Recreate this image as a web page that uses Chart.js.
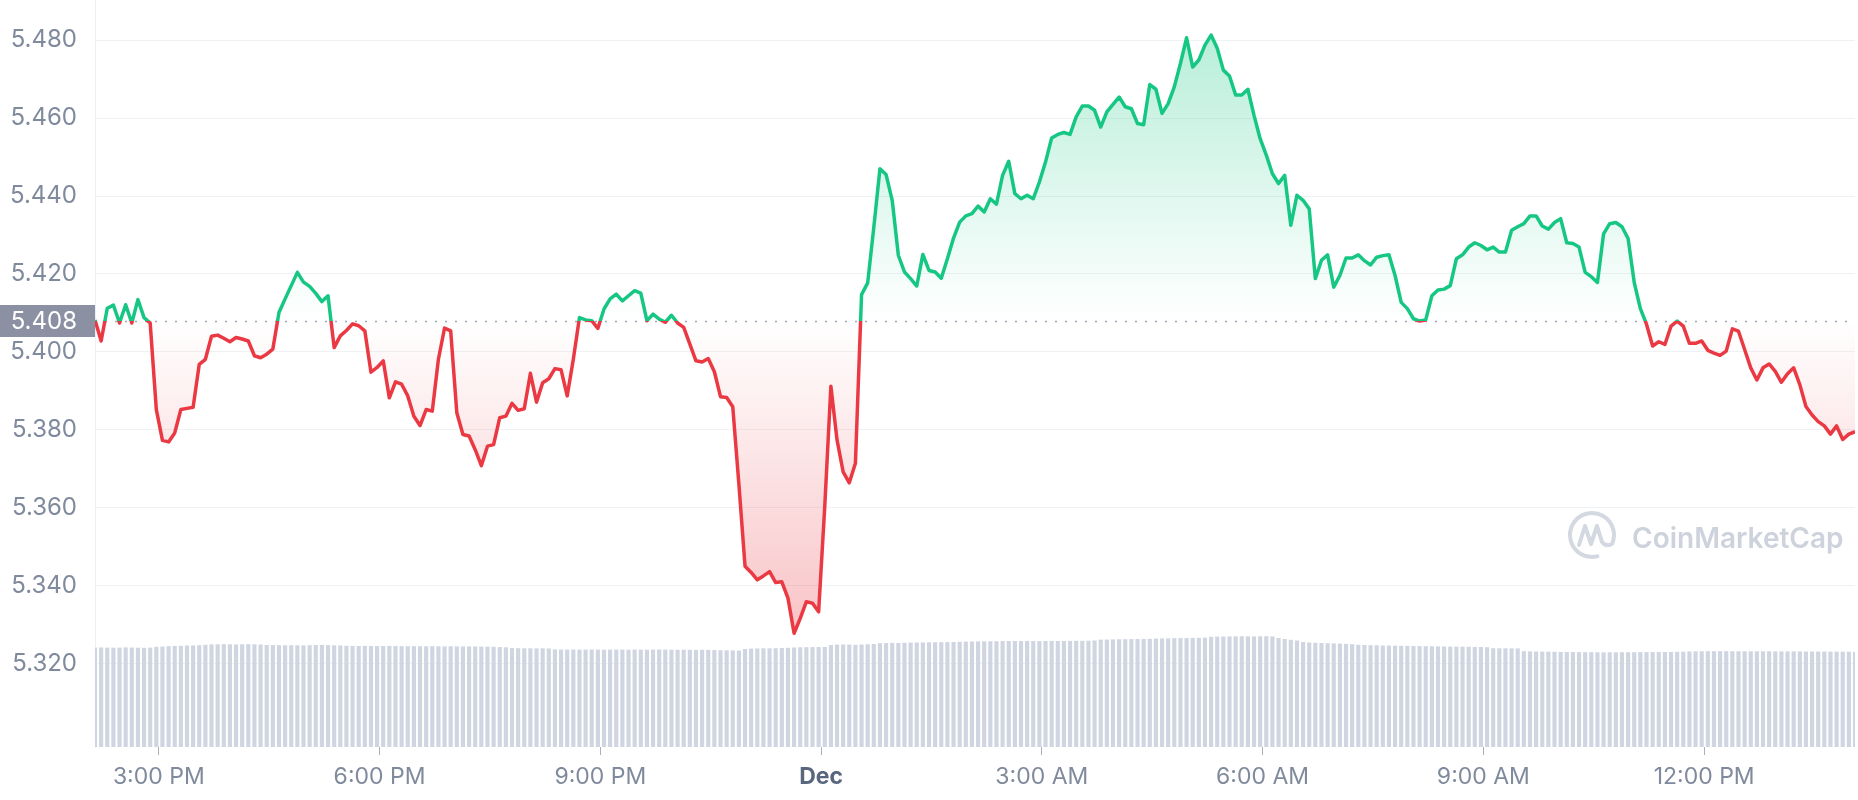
<!DOCTYPE html>
<html>
<head>
<meta charset="utf-8">
<title>Price chart</title>
<script src="https://cdn.jsdelivr.net/npm/chart.js@4.4.1/dist/chart.umd.min.js"></script>
<style>
    html, body { margin: 0; padding: 0; background: #ffffff; }
    .chart-box { width: 1858px; height: 800px; position: relative; }
</style>
</head>
<body>
<div class="chart-box"><canvas id="priceChart"></canvas></div>
<script>
// 5 minute candles, first one at 14:08 on Nov 30 (minutes counted from Nov 30 00:00)
const START_MINUTE = 848;
const STEP_MINUTES = 5;
const BASE_PRICE = 5.408;

const xTickMinutes = [900, 1080, 1260, 1440, 1620, 1800, 1980, 2160];
const yTickValues = [5.32, 5.34, 5.36, 5.38, 5.40, 5.42, 5.44, 5.46, 5.48];

const prices = [
    5.4082, 5.4028, 5.4112, 5.4120, 5.4074, 5.4121, 5.4074, 5.4134, 5.4088, 5.4074, 5.3852, 5.3773,
    5.3769, 5.3792, 5.3852, 5.3855, 5.3858, 5.3968, 5.3981, 5.4040, 5.4043, 5.4035, 5.4026, 5.4037,
    5.4033, 5.4028, 5.3990, 5.3985, 5.3994, 5.4007, 5.4101, 5.4136, 5.4170, 5.4204, 5.4179, 5.4168,
    5.4150, 5.4129, 5.4144, 5.4011, 5.4041, 5.4055, 5.4072, 5.4067, 5.4054, 5.3948, 5.3960, 5.3977,
    5.3882, 5.3923, 5.3917, 5.3887, 5.3835, 5.3811, 5.3852, 5.3848, 5.3981, 5.4061, 5.4054, 5.3844,
    5.3788, 5.3784, 5.3749, 5.3708, 5.3758, 5.3762, 5.3831, 5.3835, 5.3868, 5.3850, 5.3854, 5.3945,
    5.3871, 5.3921, 5.3931, 5.3957, 5.3954, 5.3887, 5.3981, 5.4088, 5.4082, 5.4080, 5.4060, 5.4110,
    5.4136, 5.4148, 5.4131, 5.4144, 5.4157, 5.4151, 5.4080, 5.4097, 5.4084, 5.4076, 5.4094, 5.4074,
    5.4063, 5.4020, 5.3977, 5.3974, 5.3983, 5.3949, 5.3885, 5.3883, 5.3859, 5.3660, 5.3450, 5.3434,
    5.3415, 5.3425, 5.3436, 5.3408, 5.3410, 5.3368, 5.3278, 5.3316, 5.3359, 5.3355, 5.3333, 5.3603,
    5.3912, 5.3774, 5.3692, 5.3664, 5.3714, 5.4147, 5.4177, 5.4320, 5.4470, 5.4455, 5.4389, 5.4248,
    5.4205, 5.4188, 5.4169, 5.4250, 5.4209, 5.4205, 5.4189, 5.4239, 5.4292, 5.4333, 5.4349, 5.4355,
    5.4374, 5.4359, 5.4393, 5.4379, 5.4453, 5.4489, 5.4406, 5.4393, 5.4402, 5.4393, 5.4436, 5.4487,
    5.4549, 5.4558, 5.4563, 5.4558, 5.4603, 5.4631, 5.4631, 5.4620, 5.4577, 5.4616, 5.4635, 5.4654,
    5.4629, 5.4624, 5.4586, 5.4583, 5.4686, 5.4674, 5.4612, 5.4637, 5.4680, 5.4740, 5.4806, 5.4731,
    5.4749, 5.4787, 5.4813, 5.4779, 5.4723, 5.4708, 5.4659, 5.4659, 5.4674, 5.4607, 5.4547, 5.4505,
    5.4457, 5.4432, 5.4453, 5.4325, 5.4402, 5.4389, 5.4367, 5.4188, 5.4235, 5.4249, 5.4166, 5.4196,
    5.4241, 5.4241, 5.4249, 5.4234, 5.4223, 5.4243, 5.4247, 5.4249, 5.4196, 5.4127, 5.4111, 5.4085,
    5.4079, 5.4082, 5.4144, 5.4159, 5.4161, 5.4170, 5.4239, 5.4249, 5.4269, 5.4280, 5.4273, 5.4262,
    5.4269, 5.4256, 5.4256, 5.4312, 5.4321, 5.4329, 5.4349, 5.4349, 5.4323, 5.4315, 5.4332, 5.4342,
    5.4280, 5.4278, 5.4269, 5.4204, 5.4193, 5.4178, 5.4303, 5.4329, 5.4332, 5.4321, 5.4291, 5.4178,
    5.4111, 5.4071, 5.4015, 5.4026, 5.4019, 5.4066, 5.4079, 5.4066, 5.4022, 5.4022, 5.4028, 5.4004,
    5.3997, 5.3991, 5.4002, 5.4059, 5.4053, 5.4006, 5.3959, 5.3928, 5.3959, 5.3969, 5.3950, 5.3922,
    5.3944, 5.3959, 5.3916, 5.3860, 5.3838, 5.3821, 5.3810, 5.3789, 5.3810, 5.3775, 5.3789, 5.3795
];

// volume per candle (millions)
const volumes = [
    9.94, 9.95, 9.94, 9.93, 9.94, 9.96, 9.94, 9.93, 9.92, 9.94,
    10.02, 10.05, 10.08, 10.10, 10.12, 10.14, 10.16, 10.18, 10.22,
    10.26, 10.27, 10.28, 10.27, 10.26, 10.27, 10.28, 10.27, 10.25,
    10.20, 10.19, 10.18, 10.17, 10.18, 10.17, 10.16, 10.18, 10.20, 10.21, 10.19, 10.17, 10.15,
    10.12, 10.11, 10.10, 10.11, 10.10, 10.09, 10.10, 10.11, 10.10, 10.09, 10.08, 10.09, 10.08,
    10.07, 10.08, 10.07, 10.06, 10.07, 10.06, 10.05, 10.06, 10.05, 10.04, 10.03, 10.02, 10.00, 9.97,
    9.90, 9.88, 9.87, 9.87, 9.86, 9.87, 9.85,
    9.76, 9.75, 9.74, 9.75, 9.74, 9.74, 9.75, 9.74, 9.73, 9.74, 9.75, 9.74, 9.73, 9.74, 9.74,
    9.73, 9.74, 9.75, 9.74, 9.73, 9.72, 9.73, 9.72, 9.71, 9.72, 9.71, 9.70, 9.68, 9.67, 9.66,
    9.64,
    9.80, 9.84, 9.86, 9.87, 9.87, 9.88, 9.90, 9.92, 9.95, 9.97, 9.98, 9.99, 10.00, 10.00,
    10.20, 10.24, 10.25, 10.24, 10.22, 10.25, 10.27, 10.30,
    10.38, 10.40, 10.41, 10.40, 10.42, 10.44, 10.45, 10.46, 10.47, 10.48, 10.48, 10.49, 10.50,
    10.52, 10.54, 10.55, 10.56, 10.57, 10.58, 10.58, 10.59, 10.60, 10.60,
    10.60, 10.61, 10.60, 10.59, 10.60, 10.61, 10.60, 10.60, 10.61, 10.62, 10.62, 10.63, 10.65,
    10.74, 10.75, 10.76, 10.77, 10.78, 10.79, 10.80, 10.81, 10.82, 10.84, 10.85, 10.86, 10.88, 10.89, 10.90, 10.91, 10.92, 10.94,
    11.02, 11.04, 11.05, 11.06, 11.07, 11.07, 11.07, 11.06, 11.07, 11.08, 11.06,
    10.90, 10.80, 10.72, 10.65,
    10.50, 10.45, 10.42, 10.40, 10.38, 10.36, 10.34, 10.31, 10.28,
    10.22, 10.20, 10.18, 10.17, 10.15, 10.14, 10.13, 10.12, 10.11, 10.10, 10.09,
    10.08, 10.07, 10.06, 10.05, 10.04, 10.04, 10.03, 10.02, 10.01, 10.00, 9.98,
    9.88, 9.87, 9.87, 9.86, 9.86,
    9.58, 9.56, 9.55, 9.54, 9.53, 9.52, 9.51, 9.50, 9.50, 9.49, 9.48, 9.48, 9.47, 9.47,
    9.47, 9.47, 9.48, 9.48, 9.48, 9.49, 9.49, 9.49, 9.50, 9.50, 9.51, 9.52, 9.53,
    9.56, 9.57, 9.58, 9.58, 9.58, 9.58, 9.58, 9.58, 9.57, 9.57, 9.57, 9.57, 9.57, 9.57,
    9.56, 9.56, 9.56, 9.56, 9.56, 9.55, 9.55, 9.55, 9.55, 9.54, 9.54, 9.53, 9.53, 9.52
];

const GREEN = "#16c784";
const RED = "#ea3943";
const TEXT_GREY = "#808a9d";

document.addEventListener("DOMContentLoaded", function () {
    const times = prices.map((p, i) => START_MINUTE + i * STEP_MINUTES);
    const pricePoints = prices.map((p, i) => ({ x: times[i], y: p }));
    const volumePoints = volumes.map((v, i) => ({ x: times[i], y: v }));

    function formatTime(minute) {
        if (minute % 1440 === 0) {
            return "Dec";
        }
        const h = Math.floor(minute / 60) % 24;
        const m = minute % 60;
        const h12 = h % 12 === 0 ? 12 : h % 12;
        return h12 + ":" + String(m).padStart(2, "0") + (h < 12 ? " AM" : " PM");
    }

    // split point of the two colours, as a fraction of the gradient height
    function baseFraction(chart, top, bottom) {
        const mid = chart.scales.y.getPixelForValue(BASE_PRICE);
        return Math.min(1, Math.max(0, (mid - top) / (bottom - top)));
    }

    function lineColor(context) {
        const chart = context.chart;
        const area = chart.chartArea;
        if (!area) {
            return GREEN;
        }
        const g = chart.ctx.createLinearGradient(0, area.top, 0, area.bottom);
        const f = baseFraction(chart, area.top, area.bottom);
        g.addColorStop(0, GREEN);
        g.addColorStop(f, GREEN);
        g.addColorStop(f, RED);
        g.addColorStop(1, RED);
        return g;
    }

    function areaColor(context) {
        const chart = context.chart;
        const area = chart.chartArea;
        if (!area) {
            return "transparent";
        }
        const yScale = chart.scales.y;
        const top = yScale.getPixelForValue(Math.max(...prices));
        const bottom = yScale.getPixelForValue(Math.min(...prices));
        const g = chart.ctx.createLinearGradient(0, top, 0, bottom);
        const f = baseFraction(chart, top, bottom);
        g.addColorStop(0, "rgba(22, 199, 132, 0.30)");
        g.addColorStop(f, "rgba(22, 199, 132, 0.0)");
        g.addColorStop(f, "rgba(234, 57, 67, 0.0)");
        g.addColorStop(1, "rgba(234, 57, 67, 0.30)");
        return g;
    }

    const baselinePlugin = {
        id: "baseline",
        beforeDatasetsDraw(chart) {
            const { ctx, chartArea, scales } = chart;
            const y = Math.round(scales.y.getPixelForValue(BASE_PRICE)) + 0.5;
            ctx.save();
            ctx.strokeStyle = "#9ea5b3";
            ctx.lineWidth = 1.5;
            ctx.setLineDash([2, 8]);
            ctx.beginPath();
            ctx.moveTo(chartArea.left, y);
            ctx.lineTo(chartArea.right, y);
            ctx.stroke();
            ctx.restore();
        },
        afterDraw(chart) {
            const { ctx, chartArea, scales } = chart;
            const y = scales.y.getPixelForValue(BASE_PRICE);
            ctx.save();
            ctx.fillStyle = "#8b91a2";
            ctx.fillRect(0, Math.round(y - 16), chartArea.left, 32);
            ctx.fillStyle = "#ffffff";
            ctx.font = "24px Inter";
            ctx.textAlign = "right";
            ctx.textBaseline = "middle";
            ctx.fillText(BASE_PRICE.toFixed(3), chartArea.left - 18, y + 1);
            ctx.restore();
        }
    };

    const watermarkPlugin = {
        id: "watermark",
        beforeDatasetsDraw(chart) {
            const ctx = chart.ctx;
            const cx = 1592, cy = 535, r = 22;
            ctx.save();
            ctx.strokeStyle = "#d3d8e1";
            ctx.lineWidth = 4;
            ctx.lineCap = "round";
            ctx.lineJoin = "round";
            ctx.beginPath();
            ctx.arc(cx, cy, r, 0.42 * Math.PI, 2.12 * Math.PI);
            ctx.stroke();
            ctx.beginPath();
            ctx.moveTo(cx - 13, cy + 10);
            ctx.lineTo(cx - 7, cy - 9);
            ctx.lineTo(cx - 1, cy + 9);
            ctx.lineTo(cx + 5, cy - 9);
            ctx.lineTo(cx + 10, cy + 7);
            ctx.quadraticCurveTo(cx + 14, cy + 12, cx + 20, cy + 9);
            ctx.stroke();
            ctx.fillStyle = "#cdd2dc";
            ctx.font = "600 28px Inter";
            ctx.textBaseline = "alphabetic";
            ctx.fillText("CoinMarketCap", 1632, 548);
            ctx.restore();
        }
    };

    createChart("priceChart");

    function createChart(canvasId) {
        const ctx = document.getElementById(canvasId);
        if (!ctx) {
            console.error(`Canvas ID ${canvasId} not found!`);
            return;
        }

        new Chart(ctx, {
            data: {
                datasets: [
                    {
                        type: "line",
                        label: "Price",
                        data: pricePoints,
                        xAxisID: "x",
                        yAxisID: "y",
                        borderColor: lineColor,
                        backgroundColor: areaColor,
                        borderWidth: 3.5,
                        borderJoinStyle: "round",
                        pointRadius: 0,
                        tension: 0,
                        fill: { target: { value: BASE_PRICE } },
                        order: 1
                    },
                    {
                        type: "bar",
                        label: "Volume",
                        data: volumePoints,
                        xAxisID: "x",
                        yAxisID: "vol",
                        backgroundColor: "#cfd5e1",
                        barPercentage: 0.68,
                        categoryPercentage: 1.0,
                        order: 2
                    }
                ]
            },
            options: {
                responsive: true,
                maintainAspectRatio: false,
                animation: false,
                layout: { padding: { left: 0, right: 3, top: 0, bottom: 0 } },
                plugins: {
                    legend: { display: false },
                    tooltip: { enabled: false }
                },
                scales: {
                    x: {
                        type: "linear",
                        offset: false,
                        min: START_MINUTE,
                        max: START_MINUTE + (prices.length - 1) * STEP_MINUTES,
                        afterBuildTicks: (scale) => {
                            scale.ticks = xTickMinutes.map(v => ({ value: v }));
                        },
                        afterFit: (scale) => {
                            scale.height = 53;
                            scale.paddingLeft = 0;
                            scale.paddingRight = 0;
                        },
                        border: { display: false },
                        grid: {
                            offset: false,
                            drawOnChartArea: false,
                            drawTicks: true,
                            tickLength: 8,
                            color: "#a9b0bd"
                        },
                        ticks: {
                            autoSkip: false,
                            maxRotation: 0,
                            padding: 8,
                            callback: (value) => formatTime(value),
                            color: (c) => (c.tick && c.tick.value % 1440 === 0) ? "#58667e" : TEXT_GREY,
                            font: (c) => ({
                                family: "Inter",
                                size: 23,
                                weight: (c.tick && c.tick.value % 1440 === 0) ? "700" : "400"
                            })
                        }
                    },
                    y: {
                        position: "left",
                        min: 5.2986,
                        max: 5.4903,
                        afterBuildTicks: (scale) => {
                            scale.ticks = yTickValues.map(v => ({ value: v }));
                        },
                        afterFit: (scale) => {
                            scale.width = 95;
                            scale.paddingTop = 0;
                            scale.paddingBottom = 0;
                        },
                        border: { display: true, color: "#eceff3" },
                        grid: { color: "#eff2f5", drawTicks: false },
                        ticks: {
                            padding: 18,
                            color: TEXT_GREY,
                            font: { family: "Inter", size: 24 },
                            callback: (value) => Number(value).toFixed(3)
                        }
                    },
                    vol: {
                        display: false,
                        min: 0,
                        max: 74.7
                    }
                }
            },
            plugins: [watermarkPlugin, baselinePlugin]
        });
    }
});
</script>
</body>
</html>
